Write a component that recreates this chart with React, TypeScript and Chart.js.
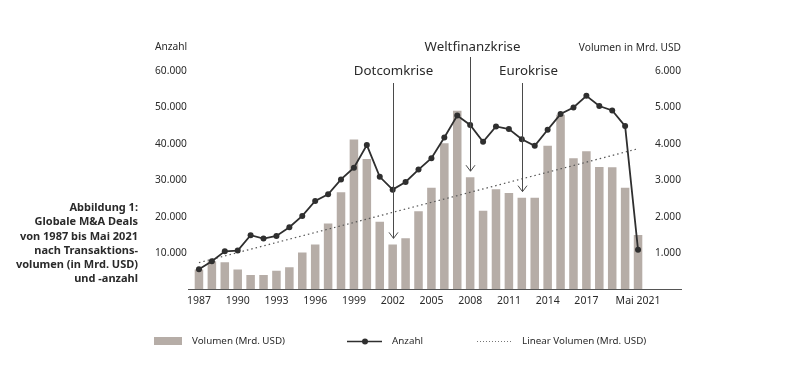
import React, { useEffect, useRef } from "react";
import { Chart, registerables } from "chart.js";

Chart.register(...registerables);

const years = [
  "1987", "1988", "1989", "1990", "1991", "1992", "1993", "1994", "1995", "1996",
  "1997", "1998", "1999", "2000", "2001", "2002", "2003", "2004", "2005", "2006",
  "2007", "2008", "2009", "2010", "2011", "2012", "2013", "2014", "2015", "2016",
  "2017", "2018", "2019", "2020", "2021",
];

const xTickLabels = [
  "1987", "", "", "1990", "", "", "1993", "", "", "1996",
  "", "", "1999", "", "", "2002", "", "", "2005", "",
  "", "2008", "", "", "2011", "", "", "2014", "", "",
  "2017", "", "", "", "Mai 2021",
];

// Volumen in Mrd. USD
const volume = [
  560, 790, 760, 560, 410, 410, 530, 620, 1030, 1250,
  1820, 2680, 4120, 3590, 1870, 1250, 1420, 2160, 2800, 4020,
  4910, 3090, 2170, 2760, 2660, 2530, 2530, 3950, 4800, 3610,
  3800, 3370, 3360, 2800, 1510,
];

// Anzahl der Transaktionen
const count = [
  5700, 7900, 10600, 10800, 15000, 14100, 14800, 17200, 20300, 24400,
  26200, 30300, 33500, 39700, 31000, 27500, 29600, 33000, 36100, 41800,
  47800, 45200, 40600, 44800, 44100, 41300, 39500, 43900, 48200, 50000,
  53200, 50400, 49200, 44900, 11000,
];

// Linear trend of Volumen: start (1987) and end (2021) values
const trendStart = 750;
const trendEnd = 3870;

const crisisLabels = ["Dotcomkrise", "Weltfinanzkrise", "Eurokrise"];
const crisisYears = ["2002", "2008", "2012"];

const captionLines = [
  "Abbildung 1:",
  "Globale M&A Deals",
  "von 1987 bis Mai 2021",
  "nach Transaktions-",
  "volumen (in Mrd. USD)",
  "und -anzahl",
];

const legendLabels = ["Volumen (Mrd. USD)", "Anzahl", "Linear Volumen (Mrd. USD)"];
const leftAxisTitle = "Anzahl";
const rightAxisTitle = "Volumen in Mrd. USD";

const FONT = "'Noto Sans', sans-serif";
const BAR_COLOR = "#b6ada7";
const LINE_COLOR = "#2f2f2f";
const TEXT_COLOR = "#2a2a2a";

const fmt = (v: number) => {
  const s = Math.round(v).toString();
  return s.replace(/\B(?=(\d{3})+(?!\d))/g, ".");
};

const crisisLayout = [
  { textY: 71, lineTop: 83, dx: 0 },
  { textY: 47, lineTop: 57, dx: 2 },
  { textY: 71, lineTop: 83, dx: 6 },
];

const decorPlugin = {
  id: "decor",
  afterDatasetsDraw(chart: any) {
    const ctx: CanvasRenderingContext2D = chart.ctx;
    const ca = chart.chartArea;
    const xs = chart.scales.x;
    const y1 = chart.scales.y1;
    ctx.save();

    // baseline
    ctx.strokeStyle = "#555";
    ctx.lineWidth = 1;
    ctx.beginPath();
    ctx.moveTo(ca.left - 4.5, Math.round(ca.bottom) - 0.5);
    ctx.lineTo(ca.right + 37.5, Math.round(ca.bottom) - 0.5);
    ctx.stroke();

    // crisis annotations
    crisisLabels.forEach((label, i) => {
      const idx = years.indexOf(crisisYears[i]);
      const x = Math.round(xs.getPixelForValue(idx)) + 0.5;
      const top = y1.getPixelForValue(volume[idx]);
      const end = top - 6;
      const lay = crisisLayout[i];
      ctx.strokeStyle = "#4a4a4a";
      ctx.lineWidth = 1;
      ctx.beginPath();
      ctx.moveTo(x, lay.lineTop);
      ctx.lineTo(x, end);
      ctx.stroke();
      ctx.beginPath();
      ctx.moveTo(x - 4.5, end - 6);
      ctx.lineTo(x, end);
      ctx.lineTo(x + 4.5, end - 6);
      ctx.stroke();
      ctx.fillStyle = TEXT_COLOR;
      ctx.font = `13.3px ${FONT}`;
      ctx.textAlign = "center";
      ctx.textBaseline = "middle";
      ctx.fillText(label, x + lay.dx, lay.textY);
    });

    // axis titles
    ctx.font = `10.2px ${FONT}`;
    ctx.fillStyle = TEXT_COLOR;
    ctx.textBaseline = "middle";
    ctx.textAlign = "left";
    ctx.fillText(leftAxisTitle, 155, 47);
    ctx.textAlign = "right";
    ctx.fillText(rightAxisTitle, 681, 48);

    // caption
    ctx.font = `bold 11px ${FONT}`;
    ctx.textAlign = "right";
    captionLines.forEach((line, i) => {
      ctx.fillText(line, 138, 208 + i * 14.2);
    });

    // legend
    const ly = 341;
    ctx.font = `9.8px ${FONT}`;
    ctx.textAlign = "left";
    ctx.fillStyle = BAR_COLOR;
    ctx.fillRect(154, ly - 4, 28, 8);
    ctx.fillStyle = TEXT_COLOR;
    ctx.fillText(legendLabels[0], 192, ly);

    ctx.strokeStyle = LINE_COLOR;
    ctx.lineWidth = 1.5;
    ctx.beginPath();
    ctx.moveTo(347, ly + 0.5);
    ctx.lineTo(382, ly + 0.5);
    ctx.stroke();
    ctx.fillStyle = LINE_COLOR;
    ctx.beginPath();
    ctx.arc(365, ly + 0.5, 3, 0, Math.PI * 2);
    ctx.fill();
    ctx.fillStyle = TEXT_COLOR;
    ctx.fillText(legendLabels[1], 392, ly);

    ctx.strokeStyle = "#777";
    ctx.lineWidth = 1;
    ctx.setLineDash([1, 2]);
    ctx.beginPath();
    ctx.moveTo(477, ly + 0.5);
    ctx.lineTo(513, ly + 0.5);
    ctx.stroke();
    ctx.setLineDash([]);
    ctx.fillText(legendLabels[2], 522, ly);

    ctx.restore();
  },
};

export default function App() {
  const ref = useRef<HTMLCanvasElement>(null);

  useEffect(() => {
    if (!ref.current) return;
    Chart.defaults.font.family = FONT;
    const trendData = years.map((_, i) =>
      i === 0 ? trendStart : i === years.length - 1 ? trendEnd : null
    );
    const chart = new Chart(ref.current, {
      type: "bar",
      data: {
        labels: years,
        datasets: [
          {
            type: "line",
            label: legendLabels[1],
            data: count,
            yAxisID: "y",
            borderColor: LINE_COLOR,
            backgroundColor: LINE_COLOR,
            borderWidth: 1.8,
            pointRadius: 3,
            pointBackgroundColor: LINE_COLOR,
            pointBorderWidth: 0,
            tension: 0,
            order: 0,
          } as any,
          {
            type: "line",
            label: legendLabels[2],
            data: trendData,
            yAxisID: "y1",
            borderColor: "#555",
            borderWidth: 1.2,
            borderDash: [1.5, 3],
            pointRadius: 0,
            spanGaps: true,
            order: 1,
          } as any,
          {
            type: "bar",
            label: legendLabels[0],
            data: volume,
            yAxisID: "y1",
            backgroundColor: BAR_COLOR,
            barPercentage: 0.66,
            categoryPercentage: 1,
            order: 2,
          } as any,
        ],
      },
      options: {
        animation: false,
        responsive: false,
        maintainAspectRatio: false,
        layout: { padding: { left: 155, right: 119, top: 71, bottom: 73 } },
        plugins: { legend: { display: false }, tooltip: { enabled: false } },
        scales: {
          x: {
            offset: true,
            grid: { display: false, drawTicks: false },
            border: { display: false },
            ticks: {
              autoSkip: false,
              maxRotation: 0,
              minRotation: 0,
              padding: 5,
              color: TEXT_COLOR,
              font: { size: 10.5, family: FONT },
              callback: (_v: any, i: number) => xTickLabels[i],
            },
            afterFit: (s: any) => {
              s.height = 20;
            },
          },
          y: {
            position: "left",
            min: 0,
            max: 60000,
            grid: { display: false, drawTicks: false },
            border: { display: false },
            ticks: {
              stepSize: 10000,
              crossAlign: "far",
              color: TEXT_COLOR,
              font: { size: 10.2, family: FONT },
              callback: (v: any) => (v === 0 ? "" : fmt(v)),
            },
            afterFit: (s: any) => {
              s.width = 37.5;
            },
          },
          y1: {
            position: "right",
            min: 0,
            max: 6000,
            grid: { display: false, drawTicks: false },
            border: { display: false },
            ticks: {
              stepSize: 1000,
              crossAlign: "far",
              color: TEXT_COLOR,
              font: { size: 10.2, family: FONT },
              callback: (v: any) => (v === 0 ? "" : fmt(v)),
            },
            afterFit: (s: any) => {
              s.width = 36.5;
            },
          },
        },
      },
      plugins: [decorPlugin],
    });
    return () => chart.destroy();
  }, []);

  return (
    <div style={{ position: "absolute", left: 0, top: 0, width: 800, height: 383, background: "#fff" }}>
      <canvas ref={ref} width={800} height={383} style={{ width: 800, height: 383, display: "block" }} />
    </div>
  );
}
